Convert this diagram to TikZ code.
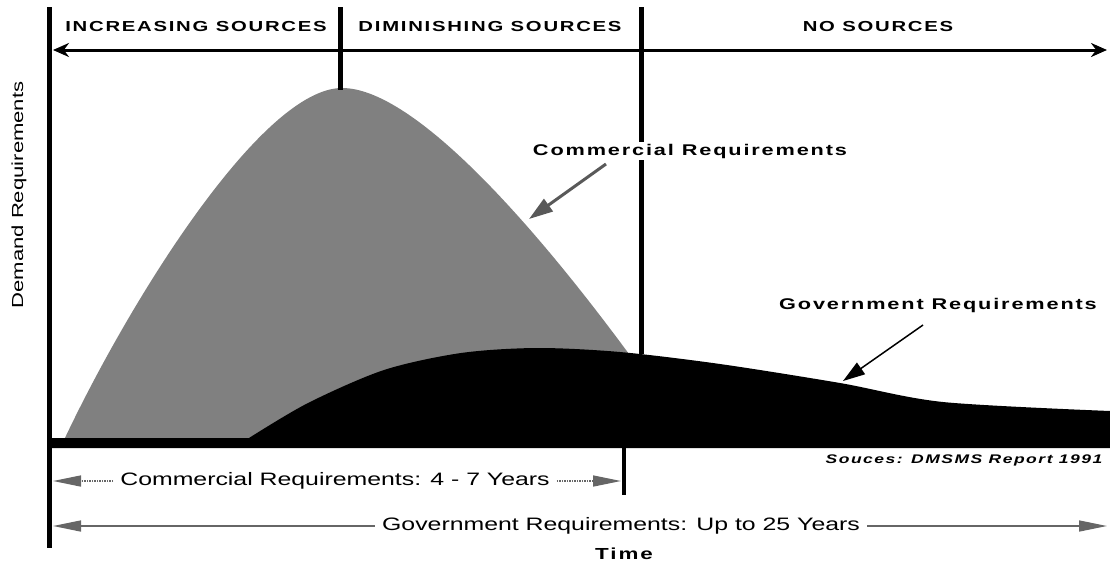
\documentclass[tikz,border=0pt]{standalone}
\usepackage{fontspec}
\setmainfont{Liberation Sans}
\newfontfamily\widefont[FakeStretch=1.38]{Liberation Sans}
\newfontfamily\boldwide[FakeStretch=1.4,LetterSpace=12]{Liberation Sans}
\usetikzlibrary{arrows.meta}

\begin{document}
\begin{tikzpicture}[x=1pt,y=-1pt,
    phase/.style={font=\boldwide\bfseries\fontsize{14.5}{16}\selectfont},
    callout/.style={font=\boldwide\bfseries\fontsize{15.5}{18}\selectfont, fill=white, inner sep=2pt},
    span/.style={font=\widefont\fontsize{18}{20}\selectfont, fill=white, inner xsep=7pt, inner ysep=3pt},
    divider/.style={line width=5pt},
    spanhead/.style={-{Triangle[length=28pt,width=11pt]}}]
    \useasboundingbox (0,0) rectangle (1110,563);
    % commercial demand
    \fill[black!50] (64,440) .. controls (130,300) and (262,88) .. (342,88)
        .. controls (420,88) and (560,250) .. (690,440) -- cycle;
    % government demand
    \fill[black] (48,448) -- (48,438) -- plot[smooth, tension=0.5] coordinates {(249,438) (308,403) (384,370) (461,353) (537,348) (620,352) (720,364) (840,383) (943,402) (1110,411)} -- (1110,448) -- cycle;
    % frame and phase borders
    \draw[divider] (49,7) -- (49,548);
    \draw[divider] (340,7) -- (340,90);
    \draw[divider] (641,7) -- (641,354);
    \draw[line width=4pt] (624,446) -- (624,495);
    % phases
    \coordinate (phl) at (53,50);
    \coordinate (phr) at (1107,50);
    \draw[line width=3pt, {Stealth[length=16pt,width=14pt]}-{Stealth[length=16pt,width=14pt]}] (phl) -- (phr);
    \node[phase] (inc) at (196,27) {INCREASING SOURCES};
    \node[phase] (dim) at (490,27) {DIMINISHING SOURCES};
    \node[phase] (nos) at (878,27) {NO SOURCES};
    % callouts
    \node[callout] (comlab) at (690,151) {Commercial Requirements};
    \node[callout] (govlab) at (938,305) {Government Requirements};
    \coordinate (comtail) at (606,164);
    \coordinate (comtip) at (529,219);
    \coordinate (govtail) at (923,325);
    \coordinate (govtip) at (843,381);
    \draw[black!65, line width=3pt, -{Triangle[length=24pt,width=15pt]}] (comtail) -- (comtip);
    \draw[line width=1.5pt, -{Triangle[length=22pt,width=14pt]}] (govtail) -- (govtip);
    % axes
    \node[rotate=90, font=\widefont\fontsize{16}{18}\selectfont] (ylab) at (19,195) {Demand Requirements};
    \node[font=\boldwide\bfseries\fontsize{16}{18}\selectfont] (xlab) at (624,554) {Time};
    \node[font=\boldwide\bfseries\itshape\fontsize{12.5}{14}\selectfont] (src) at (964,460) {Souces: DMSMS Report 1991};
    % life spans
    \node[span] (comspan) at (335,481) {Commercial Requirements: 4 - 7 Years};
    \coordinate (coml) at (53,481);
    \coordinate (comr) at (621,481);
    \draw[black!60, line width=1.5pt, densely dotted, spanhead] (comspan) -- (coml);
    \draw[black!60, line width=1.5pt, densely dotted, spanhead] (comspan) -- (comr);
    \node[span] (govspan) at (621,526) {Government Requirements: Up to 25 Years};
    \coordinate (govl) at (53,526);
    \coordinate (govr) at (1107,526);
    \draw[black!60, line width=1.5pt, spanhead] (govspan) -- (govl);
    \draw[black!60, line width=1.5pt, spanhead] (govspan) -- (govr);
\end{tikzpicture}
\end{document}
